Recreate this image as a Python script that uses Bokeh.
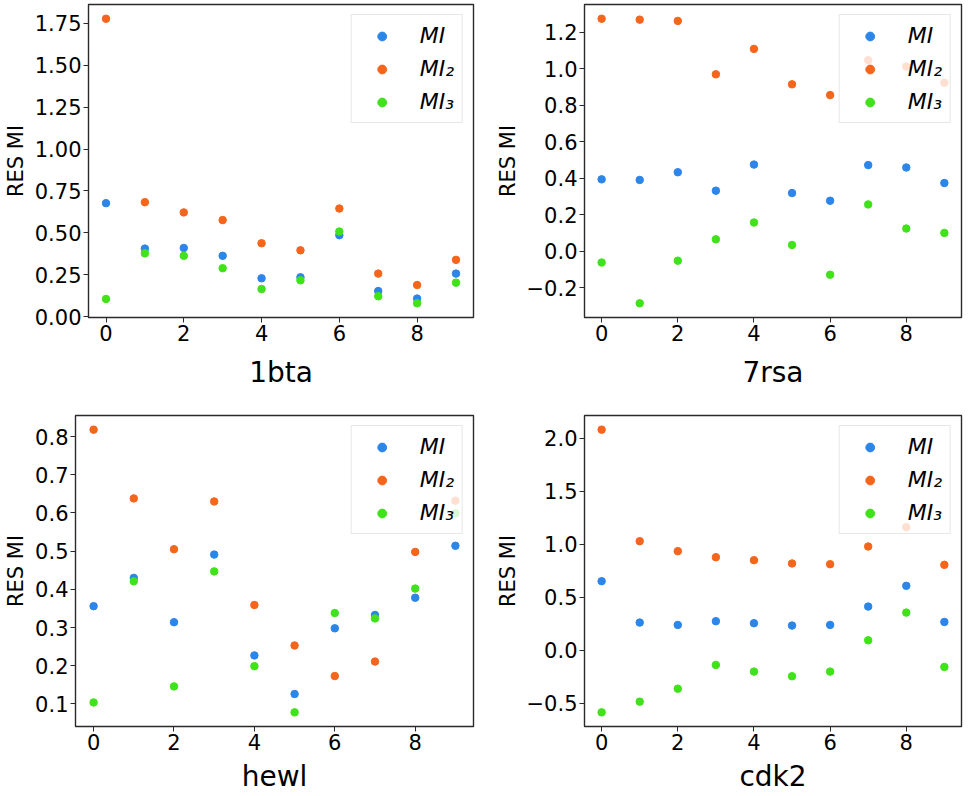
from bokeh.plotting import figure
from bokeh.layouts import column, row
from bokeh.models import FixedTicker, DataRange1d
from bokeh.embed import file_html
from bokeh.resources import INLINE

x_vals = [0, 1, 2, 3, 4, 5, 6, 7, 8, 9]
x_ticks = [0, 2, 4, 6, 8]

# 1bta
mi_1bta = [0.677, 0.406, 0.410, 0.363, 0.229, 0.235, 0.486, 0.153, 0.108, 0.257]
mi2_1bta = [1.777, 0.683, 0.622, 0.576, 0.438, 0.396, 0.645, 0.257, 0.189, 0.339]
mi3_1bta = [0.106, 0.378, 0.363, 0.289, 0.165, 0.217, 0.508, 0.122, 0.080, 0.203]
yt_1bta = [0.0, 0.25, 0.5, 0.75, 1.0, 1.25, 1.5, 1.75]
yl_1bta = ["0.00", "0.25", "0.50", "0.75", "1.00", "1.25", "1.50", "1.75"]

# 7rsa
mi_7rsa = [0.394, 0.391, 0.433, 0.332, 0.475, 0.319, 0.277, 0.472, 0.459, 0.374]
mi2_7rsa = [1.273, 1.268, 1.261, 0.969, 1.108, 0.914, 0.855, 1.046, 1.011, 0.923]
mi3_7rsa = [-0.061, -0.284, -0.051, 0.066, 0.158, 0.035, -0.128, 0.257, 0.125, 0.101]
yt_7rsa = [-0.2, 0.0, 0.2, 0.4, 0.6, 0.8, 1.0, 1.2]
yl_7rsa = ["\u22120.2", "0.0", "0.2", "0.4", "0.6", "0.8", "1.0", "1.2"]

# hewl
mi_hewl = [0.356, 0.430, 0.314, 0.491, 0.227, 0.126, 0.298, 0.333, 0.378, 0.514]
mi2_hewl = [0.818, 0.638, 0.505, 0.630, 0.359, 0.253, 0.173, 0.211, 0.498, 0.632]
mi3_hewl = [0.104, 0.421, 0.146, 0.447, 0.199, 0.078, 0.338, 0.324, 0.402, 0.599]
yt_hewl = [0.1, 0.2, 0.3, 0.4, 0.5, 0.6, 0.7, 0.8]
yl_hewl = ["0.1", "0.2", "0.3", "0.4", "0.5", "0.6", "0.7", "0.8"]

# cdk2
mi_cdk2 = [0.651, 0.261, 0.239, 0.274, 0.255, 0.233, 0.239, 0.412, 0.607, 0.267]
mi2_cdk2 = [2.079, 1.028, 0.934, 0.877, 0.849, 0.818, 0.811, 0.978, 1.160, 0.805]
mi3_cdk2 = [-0.585, -0.484, -0.362, -0.138, -0.201, -0.245, -0.201, 0.094, 0.355, -0.157]
yt_cdk2 = [-0.5, 0.0, 0.5, 1.0, 1.5, 2.0]
yl_cdk2 = ["\u22120.5", "0.0", "0.5", "1.0", "1.5", "2.0"]

series_labels = ["MI", "MI\u2082", "MI\u2083"]
colors = ["#2c86ea", "#f5661c", "#40e21a"]
FONT = "DejaVu Sans"


def make_panel(name, ys, yt, yl, width, height, bl, br, bt, bb, title_standoff):
    p = figure(width=width, height=height, output_backend="svg", toolbar_location=None,
               x_range=DataRange1d(range_padding=0.1), y_range=DataRange1d(range_padding=0.1),
               min_border_left=bl, min_border_right=br, min_border_top=bt, min_border_bottom=bb)
    for y, lab, c in zip(ys, series_labels, colors):
        p.scatter(x_vals, y, size=7.5, color=c, line_color=c, legend_label=lab)
    p.xgrid.visible = False
    p.ygrid.visible = False
    p.outline_line_color = "#2a2a2a"
    p.outline_line_width = 1.4
    p.outline_line_alpha = 1.0
    p.xaxis.ticker = FixedTicker(ticks=x_ticks)
    p.yaxis.ticker = FixedTicker(ticks=yt)
    p.yaxis.major_label_overrides = {t: l for t, l in zip(yt, yl)}
    for ax in (p.xaxis[0], p.yaxis[0]):
        ax.axis_line_color = None
        ax.major_tick_out = 5
        ax.major_tick_in = 0
        ax.minor_tick_out = 0
        ax.minor_tick_in = 0
        ax.major_tick_line_color = "#2a2a2a"
        ax.major_label_text_font = FONT
        ax.major_label_text_font_size = "21px"
        ax.major_label_text_color = "black"
        ax.major_label_standoff = 2
        ax.axis_label_text_font = FONT
        ax.axis_label_text_font_style = "normal"
        ax.axis_label_text_color = "black"
    p.xaxis.axis_label = name
    p.xaxis.axis_label_text_font_size = "28px"
    p.xaxis.axis_label_standoff = title_standoff
    p.yaxis.axis_label = "RES MI"
    p.yaxis.axis_label_text_font_size = "21px"
    p.yaxis.axis_label_standoff = 4
    lg = p.legend[0]
    lg.location = "top_right"
    lg.margin = 10
    lg.padding = 8
    lg.spacing = 8
    lg.glyph_width = 44
    lg.glyph_height = 22
    lg.label_standoff = 16
    lg.label_text_font = FONT
    lg.label_text_font_size = "22px"
    lg.label_text_font_style = "italic"
    lg.label_text_color = "black"
    lg.label_height = 22
    lg.border_line_color = "#d0d0d0"
    lg.border_line_width = 1
    lg.background_fill_alpha = 0.8
    lg.background_fill_color = "white"
    return p


p1 = make_panel("1bta", [mi_1bta, mi2_1bta, mi3_1bta], yt_1bta, yl_1bta, 480, 400, 88, 7, 4, 83, 12)
p2 = make_panel("7rsa", [mi_7rsa, mi2_7rsa, mi3_7rsa], yt_7rsa, yl_7rsa, 485, 400, 104, 4, 4, 83, 12)
p3 = make_panel("hewl", [mi_hewl, mi2_hewl, mi3_hewl], yt_hewl, yl_hewl, 480, 396, 75, 7, 15, 70, 7)
p4 = make_panel("cdk2", [mi_cdk2, mi2_cdk2, mi3_cdk2], yt_cdk2, yl_cdk2, 485, 396, 104, 4, 15, 70, 7)

layout = column(row(p1, p2), row(p3, p4))
open("out.html", "w").write(file_html(layout, INLINE))
